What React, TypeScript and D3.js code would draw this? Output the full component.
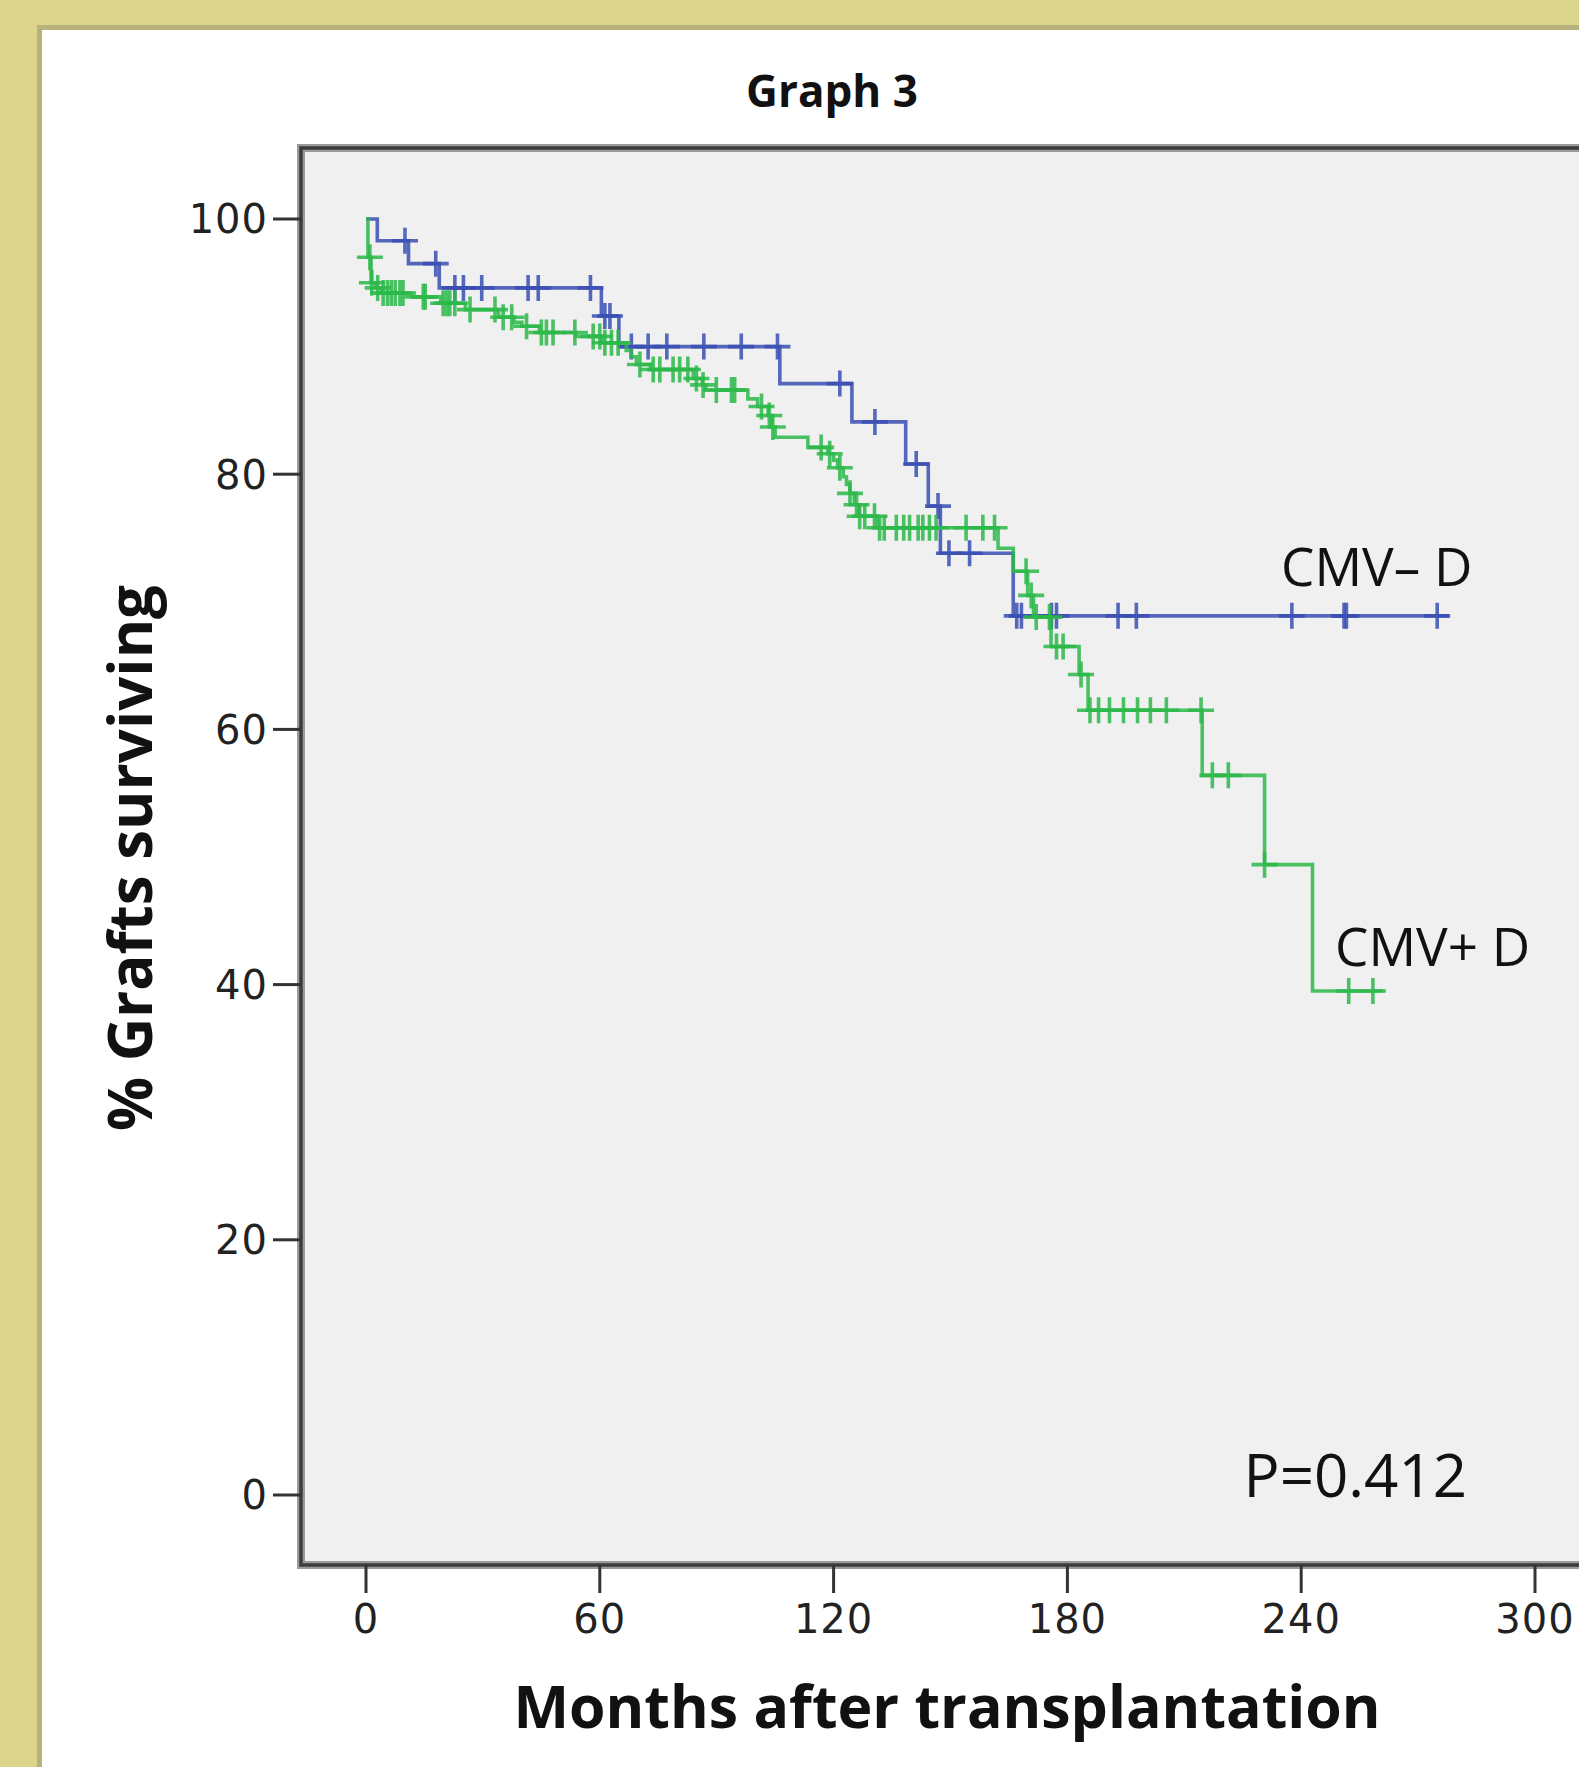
import React from "react";
import * as d3 from "d3";

// Kaplan-Meier steps: [month, % surviving after the drop]
const negSteps: [number, number][] = [
  [0, 100], [2.9, 98.3], [10.9, 96.5], [18.8, 94.6], [60.4, 92.4], [64.9, 90.0],
  [106.2, 87.1], [124.7, 84.1], [138.5, 80.8], [144.3, 77.5], [147.4, 73.8],
  [166.1, 68.9],
];
const negEnd = 277.9;
const negCensored = [
  10.0, 17.9, 22.8, 25.0, 29.7, 41.6, 44.2, 57.6, 61.3, 62.6, 68.1, 72.4, 77.2,
  86.7, 96.3, 105.6, 121.6, 130.6, 141.2, 146.8, 149.6, 154.9, 167.0, 168.2,
  175.9, 177.2, 193.0, 197.7, 237.6, 251.0, 251.6, 274.9,
];

const posSteps: [number, number][] = [
  [0, 100], [0.5, 97.0], [1.3, 95.0], [2.5, 94.6], [4.0, 94.2], [10.4, 93.9],
  [19.2, 93.4], [25.5, 92.9], [34.0, 92.3], [38.0, 91.9], [40.0, 91.6],
  [44.5, 91.1], [54.0, 90.8], [60.5, 90.3], [66.8, 89.7], [68.0, 89.2],
  [69.4, 88.6], [73.0, 88.2], [84.0, 87.5], [86.3, 87.0], [87.2, 86.6],
  [98.0, 85.9], [100.5, 85.3], [103.2, 84.6], [104.0, 83.7], [105.0, 82.9],
  [113.4, 82.1], [118.5, 81.6], [120.0, 81.1], [121.0, 80.5], [122.5, 79.8],
  [123.3, 79.2], [124.2, 78.5], [125.3, 77.6], [126.5, 76.7], [131.3, 75.8],
  [162.2, 74.2], [166.1, 72.4], [169.8, 70.5], [171.3, 68.8], [175.8, 66.5],
  [183.0, 64.3], [185.3, 61.5], [214.6, 56.4], [230.6, 49.4], [242.9, 39.5],
];
const posEnd = 261;
const posCensored = [
  1.0, 1.5, 3.0, 4.4, 5.5, 6.5, 7.5, 8.7, 9.5, 14.7, 15.2, 19.8, 20.7, 21.5,
  22.8, 26.7, 33.1, 35.2, 37.4, 41.2, 45.0, 46.3, 48.0, 53.6, 58.3, 60.0, 61.3,
  63.0, 64.7, 70.3, 73.7, 75.4, 78.8, 80.5, 82.6, 84.8, 86.5, 89.9, 93.8, 94.6,
  101.5, 103.5, 104.4, 116.8, 119.0, 121.6, 124.2, 125.9, 126.7, 128.0, 130.5,
  131.8, 133.0, 136.1, 138.0, 139.5, 141.7, 142.9, 144.6, 146.3, 154.0, 158.3,
  161.3, 169.4, 170.7, 172.0, 175.4, 177.2, 178.9, 183.5, 185.8, 188.0, 190.8,
  194.4, 198.0, 201.3, 205.4, 214.3, 217.2, 221.3, 230.6, 252.2, 258.4,
];

const xTicks = [0, 60, 120, 180, 240, 300];
const yTicks = [0, 20, 40, 60, 80, 100];

const W = 1579;
const H = 1767;
const frame = { left: 301, top: 148, bottom: 1565, right: 1640 };

const x = d3.scaleLinear().domain([0, 300]).range([366, 1535]);
const y = d3.scaleLinear().domain([0, 100]).range([1495, 219]);

const survAt = (steps: [number, number][], t: number) => {
  let v = steps[0][1];
  for (const s of steps) if (s[0] <= t) v = s[1];
  return v;
};

const line = d3
  .line<[number, number]>()
  .x((d) => x(d[0]))
  .y((d) => y(d[1]))
  .curve(d3.curveStepAfter);

const Curve = ({ steps, end, censored, color }: any) => {
  const pts: [number, number][] = [...steps, [end, steps[steps.length - 1][1]]];
  const h = 13;
  return (
    <g stroke={color} fill="none" strokeOpacity={0.85}>
      <path d={line(pts) || ""} strokeWidth={3.6} />
      {censored.map((t: number, i: number) => {
        const cx = x(t);
        const cy = y(survAt(steps, t));
        return (
          <path
            key={i}
            strokeWidth={3.6}
            d={`M${cx - h},${cy}H${cx + h}M${cx},${cy - h}V${cy + h}`}
          />
        );
      })}
    </g>
  );
};

export default function App() {
  return (
    <svg
      width={W}
      height={H}
      style={{ position: "absolute", left: 0, top: 0, display: "block" }}
    >
      <rect x={0} y={0} width={W} height={H} fill="#dbd48b" />
      <rect x={37} y={25} width={W} height={H} fill="#b9b27d" />
      <rect x={42} y={30} width={W} height={H} fill="#ffffff" />

      <text
        x={832}
        y={107}
        textAnchor="middle"
        fontFamily="Open Sans"
        fontWeight="bold"
        fontSize={44}
        fill="#111"
      >
        Graph 3
      </text>

      {/* plot frame */}
      <rect
        x={frame.left}
        y={frame.top}
        width={frame.right - frame.left}
        height={frame.bottom - frame.top}
        fill="#f0f0f0"
        stroke="#9a9a9a"
        strokeWidth={8}
      />
      <rect
        x={frame.left}
        y={frame.top}
        width={frame.right - frame.left}
        height={frame.bottom - frame.top}
        fill="none"
        stroke="#3c3c3c"
        strokeWidth={3.5}
      />

      {/* y axis */}
      {yTicks.map((t) => (
        <g key={t}>
          <line x1={273} x2={frame.left} y1={y(t)} y2={y(t)} stroke="#333" strokeWidth={3} />
          <text
            x={268}
            y={y(t)}
            dy="0.36em"
            textAnchor="end"
            fontFamily="DejaVu Sans"
            fontSize={40}
            letterSpacing={1}
            fill="#222"
          >
            {t}
          </text>
        </g>
      ))}

      {/* x axis */}
      {xTicks.map((t) => (
        <g key={t}>
          <line x1={x(t)} x2={x(t)} y1={frame.bottom} y2={1593} stroke="#333" strokeWidth={3} />
          <text
            x={x(t)}
            y={1633}
            textAnchor="middle"
            fontFamily="DejaVu Sans"
            fontSize={40}
            letterSpacing={1}
            fill="#222"
          >
            {t}
          </text>
        </g>
      ))}

      <text
        x={947}
        y={1728}
        textAnchor="middle"
        fontFamily="Open Sans"
        fontWeight="bold"
        fontSize={59}
        fill="#111"
      >
        Months after transplantation
      </text>
      <text
        transform={`translate(152,858) rotate(-90)`}
        textAnchor="middle"
        fontFamily="Open Sans"
        fontWeight="bold"
        fontSize={60}
        fill="#111"
      >
        % Grafts surviving
      </text>

      <Curve steps={negSteps} end={negEnd} censored={negCensored} color="#3a4fb3" />
      <Curve steps={posSteps} end={posEnd} censored={posCensored} color="#2cb84a" />

      <text x={1281} y={586} fontFamily="Open Sans" fontSize={53} fill="#111">
        CMV– D
      </text>
      <text x={1335} y={966} fontFamily="Open Sans" fontSize={53} fill="#111">
        CMV+ D
      </text>
      <text
        x={1467}
        y={1497}
        textAnchor="end"
        fontFamily="Open Sans"
        fontSize={60}
        fill="#111"
      >
        P=0.412
      </text>
    </svg>
  );
}
